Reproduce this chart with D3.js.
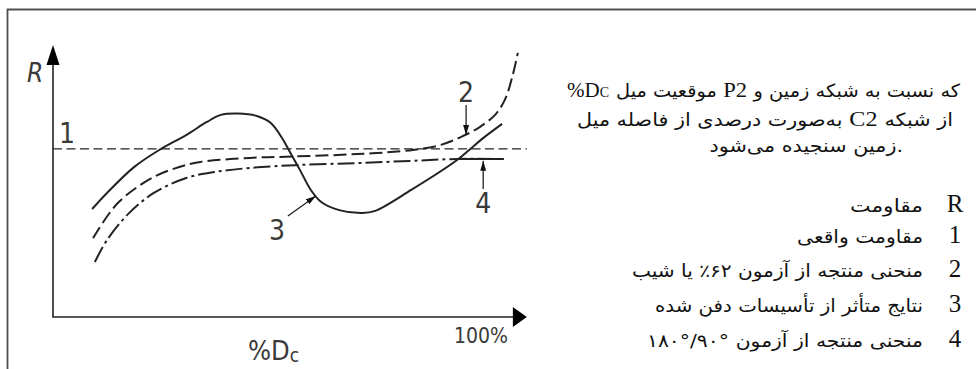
<!DOCTYPE html>
<html><head><meta charset="utf-8">
<script src="https://cdn.jsdelivr.net/npm/d3@7"></script>
<style>html,body{margin:0;padding:0;background:#fff;}svg{display:block;}</style>
</head><body>
<svg id="c" width="976" height="369"></svg>
<script>
// ---------- data ----------
const trueResistance = 61.8;                 // curve 1 (horizontal)
const trueResistanceSpan = [0, 105.3];
const curve2X = [8.9,14.4,22.4,29.6,32.7,43.8,53.3,67.6,80.0,86.0,90.7,94.9,98.4,100.4,102.0,103.3];
const curve2R = [29.0,41.9,51.5,55.9,57.0,58.5,59.0,59.9,61.4,63.2,66.2,69.9,74.6,79.8,87.9,97.1];
const curve3X = [8.7,12.0,18.0,23.6,29.6,34.2,37.3,41.1,45.3,48.4,50.9,52.4,54.9,57.3,59.6,63.6,68.7,71.6,79.6,89.8,92.2,95.3,99.8];
const curve3R = [39.7,45.6,55.1,61.4,66.9,71.7,74.3,74.8,73.9,71.3,65.8,61.4,54.0,46.7,42.3,39.3,38.2,39.0,46.7,57.7,61.0,65.4,71.0];
const curve4X = [9.3,12.0,16.9,22.4,29.6,35.8,43.8,54.9,67.6,79.6,89.8,100.2];
const curve4R = [20.2,28.3,38.2,45.6,51.1,53.3,54.8,55.9,56.6,57.4,58.1,58.1];
const curve4SolidFrom = 89.8;
const curveLabels = ["1","2","3","4"];
const axisTitleY = "R";
const axisTitleX = "%D", axisTitleXSub = "c";
const axisEndLabel = "100%";
const legendSymbols = ["R","1","2","3","4"];
// each legend text as runs in left-to-right visual order
const legendTexts = [["مقاومت"],["مقاومت واقعی"],["منحنی منتجه از آزمون ۶۲٪ یا شیب"],["نتایج متأثر از تأسیسات دفن شده"],["۱۸۰°/۹۰°","منحنی منتجه از آزمون"]];
const noteSymbol = "%D", noteSymbolSub = "C";
// note text, one array of runs per printed line (runs in left-to-right visual order)
const noteLine1 = ["موقعیت میل","P2","که نسبت به شبکه زمین و"];
const noteLine2 = ["به‌صورت درصدی از فاصله میل","C2","از شبکه"];
const noteLine3 = ["زمین سنجیده می‌شود","."];

// ---------- layout ----------
const W = 976, H = 369;
const svg = d3.select("#c");
const x = d3.scaleLinear().domain([0,100]).range([53,503]);
const y = d3.scaleLinear().domain([0,100]).range([317,45]);
const ink = "#222", labelInk = "#3a3a3a";
const labelFont = "'DejaVu Sans Condensed','DejaVu Sans',sans-serif";

// frame
svg.append("path").attr("d",`M7.5,${H} V9.5 H${W}`).attr("fill","none")
  .attr("stroke","#505050").attr("stroke-width",1.8);

// axes
const xEnd = 105.3;
svg.append("line").attr("x1",x(0)).attr("y1",y(0)).attr("x2",x(0)).attr("y2",y(100)+19)
  .attr("stroke",ink).attr("stroke-width",1.6);
svg.append("path").attr("d",`M${x(0)},${y(100)} L${x(0)-6.5},${y(100)+20} L${x(0)+6.5},${y(100)+20} Z`).attr("fill","#000");
svg.append("line").attr("x1",x(0)-0.8).attr("y1",y(0)).attr("x2",x(xEnd)-13).attr("y2",y(0))
  .attr("stroke",ink).attr("stroke-width",1.6);
svg.append("path").attr("d",`M${x(xEnd)},${y(0)} L${x(xEnd)-14},${y(0)-10} L${x(xEnd)-14},${y(0)+10} Z`).attr("fill","#000");

// axis titles
svg.append("text").attr("x",35).attr("y",82).attr("text-anchor","middle")
  .attr("font-family",labelFont).attr("font-style","italic").attr("font-size",26).attr("fill",labelInk).text(axisTitleY);
const xt = svg.append("text").attr("x",248).attr("y",360).attr("font-family",labelFont).attr("font-size",27).attr("fill",labelInk);
xt.append("tspan").text(axisTitleX);
xt.append("tspan").attr("font-size",19).attr("dy",2).text(axisTitleXSub);
svg.append("text").attr("x",x(100)-22).attr("y",343).attr("text-anchor","middle")
  .attr("font-family",labelFont).attr("font-size",21).attr("fill",labelInk).text(axisEndLabel);

// curves
const line = d3.line().x(d=>x(d[0])).y(d=>y(d[1])).curve(d3.curveCatmullRom.alpha(0.5));
const zip = (a,b)=>a.map((v,i)=>[v,b[i]]);
// 1
svg.append("path").attr("d",line([[trueResistanceSpan[0],trueResistance],[trueResistanceSpan[1],trueResistance]]))
  .attr("fill","none").attr("stroke",ink).attr("stroke-width",1.4).attr("stroke-dasharray","9,4.5");
// 4
const c4 = zip(curve4X,curve4R);
svg.append("path").attr("d",line(c4)).attr("fill","none").attr("stroke",ink).attr("stroke-width",2)
  .attr("stroke-dasharray","17,4,3,4");
svg.append("path").attr("d",line(c4.filter(d=>d[0]>=curve4SolidFrom))).attr("fill","none").attr("stroke",ink).attr("stroke-width",2);
// 2
svg.append("path").attr("d",line(zip(curve2X,curve2R))).attr("fill","none").attr("stroke",ink)
  .attr("stroke-width",2).attr("stroke-dasharray","13,5");
// 3
svg.append("path").attr("d",line(zip(curve3X,curve3R))).attr("fill","none").attr("stroke",ink).attr("stroke-width",2);

// curve labels + pointer arrows (positions in data units)
const defs = svg.append("defs");
defs.append("marker").attr("id","ah").attr("viewBox","0 0 10 6").attr("refX",10).attr("refY",3)
  .attr("markerWidth",10).attr("markerHeight",6).attr("markerUnits","userSpaceOnUse").attr("orient","auto")
  .append("path").attr("d","M0,0 L10,3 L0,6 Z").attr("fill","#111");
const labelPos = [[3.1,64.0],[91.8,79.0],[49.8,28.3],[95.6,38.2]];
const arrowPos = [null,[[91.8,77.9],[91.8,66.9]],[[52.2,37.1],[58.4,44.5]],[[95.6,47.1],[95.6,57.4]]];
curveLabels.forEach((t,i)=>{
  svg.append("text").attr("x",x(labelPos[i][0])).attr("y",y(labelPos[i][1])).attr("text-anchor","middle")
    .attr("font-family",labelFont).attr("font-size",28).attr("fill",labelInk).text(t);
  if(arrowPos[i]){
    const [a,b] = arrowPos[i];
    svg.append("line").attr("x1",x(a[0])).attr("y1",y(a[1])).attr("x2",x(b[0])).attr("y2",y(b[1]))
      .attr("stroke","#222").attr("stroke-width",1.3).attr("marker-end","url(#ah)");
  }
});

// ---------- legend (right) ----------
const serif = "'Liberation Serif','Times New Roman',serif";
const fa = "'DejaVu Sans',sans-serif";
const isLatin = s => /^[A-Za-z0-9]+$/.test(s);
const isNum = s => /^[\u06F0-\u06F9°\/٪]+$/.test(s);
// note symbol
const ns = svg.append("text").attr("x",567).attr("y",97).attr("font-family",serif).attr("font-size",21).attr("fill","#111");
ns.append("tspan").text(noteSymbol);
ns.append("tspan").attr("font-size",14).text(noteSymbolSub);
// runs placed left to right
function layRuns(runs, yPos, left, right, scale){
  const els = runs.map(r => svg.append("text").attr("y",yPos).attr("x",0)
    .attr("direction", isNum(r) ? "ltr" : null)
    .attr("font-family", isLatin(r) ? serif : fa).attr("font-size", isLatin(r) ? 21 : 18)
    .attr("fill","#111").text(r));
  const ws = els.map(e => e.node().getComputedTextLength());
  const gap = 6;
  const gaps = runs.map((r,i)=> i===0 ? 0 : (r==="." ? 0 : gap));
  const nat = d3.sum(ws) + d3.sum(gaps);
  const s = scale || (right-left)/nat;
  let cur = left!==null ? left : right - nat*s;
  els.forEach((e,i)=>{
    cur += gaps[i]*s;
    e.attr("x",cur).attr("textLength",ws[i]*s).attr("lengthAdjust","spacingAndGlyphs");
    cur += ws[i]*s;
  });
  return s;
}
layRuns(noteLine1, 97, 616, 960);
const s2 = layRuns(noteLine2, 126, 577, 953);
layRuns(noteLine3, 152, null, 903, s2);

const legY = [212,243,277,312,347];
const legLeft = [850,797,632,655,647];
legendSymbols.forEach((s,i)=>{
  svg.append("text").attr("x",955).attr("y",legY[i]).attr("text-anchor","middle")
    .attr("font-family",serif).attr("font-size",25).attr("fill","#111").text(s);
  layRuns(legendTexts[i], legY[i], legLeft[i], 923);
});
</script>
</body></html>
